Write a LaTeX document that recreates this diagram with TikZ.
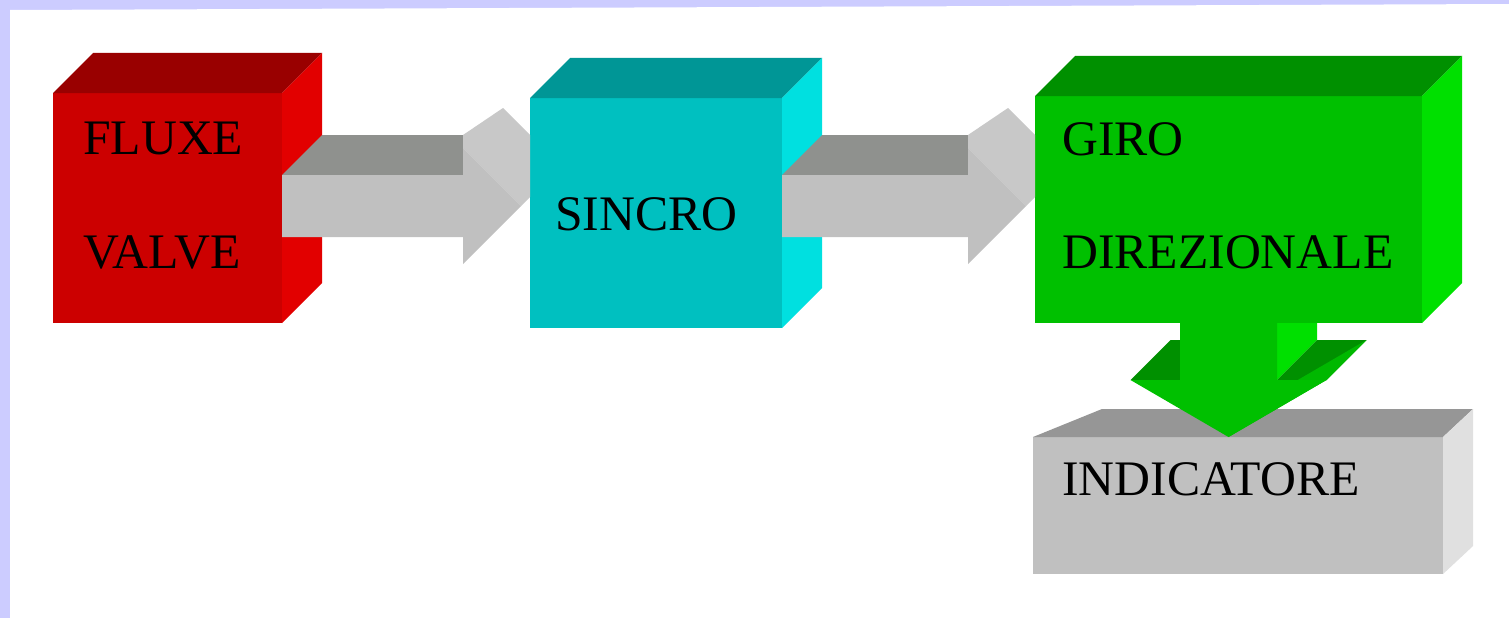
\documentclass[tikz,border=0pt]{standalone}
\usepackage{fontspec}
\setmainfont{Liberation Serif}
\usepackage{tikz}
\usetikzlibrary{calc}
\definecolor{frame}{HTML}{CCCCFF}
\definecolor{redf}{HTML}{CC0000}
\definecolor{redt}{HTML}{990000}
\definecolor{reds}{HTML}{E20000}
\definecolor{cyanf}{HTML}{00C0C0}
\definecolor{cyant}{HTML}{009696}
\definecolor{cyans}{HTML}{00E0E0}
\definecolor{greenf}{HTML}{00C000}
\definecolor{greent}{HTML}{009000}
\definecolor{greens}{HTML}{00E000}
\definecolor{greenh}{HTML}{00B800}
\definecolor{grayf}{HTML}{C0C0C0}
\definecolor{grayt}{HTML}{969696}
\definecolor{grays}{HTML}{E0E0E0}
\definecolor{arrt}{HTML}{8F918E}
\definecolor{arrh}{HTML}{C8C8C8}
\tikzset{
  face/.style={rectangle,inner sep=0pt,outer sep=0pt,anchor=north west},
  lbl/.style={font=\fontsize{49.7}{60}\selectfont,text=black,anchor=base west,inner sep=0pt},
}
% top and side of a box: node, left dx, right dx, depth, top colour, side colour
\newcommand{\cubefaces}[6]{%
  \fill[#5] (#1.north west) -- ++(#2,-#4) -- ($(#1.north east)+(#3,-#4)$) -- (#1.north east) -- cycle;
  \fill[#6] (#1.north east) -- ++(#3,-#4) -- ($(#1.south east)+(#3,-#4)$) -- (#1.south east) -- cycle;
}
% grey block arrow between two boxes
\newcommand{\flowarrow}[2]{%
  \coordinate (s) at (#1.east |- axis);
  \coordinate (h) at ($(#2.west |- axis)+(-67,0)$);
  \fill[arrt] ($(s)+(0,-31)$) -- ++(40,-40) -- ($(h)+(0,-71)$) -- ($(h)+(0,-31)$) -- cycle;
  \fill[arrh] ($(h)+(0,-71)$) -- ($(h)+(40,-98)$) -- ($(#2.west |- h)+(0,-71)$)
    -- ($(#2.west |- h)+(0,-9)$) -- ($(h)+(58,0)$) -- ($(h)+(0,-58)$) -- cycle;
  \fill[grayf] ($(s)+(0,-31)$) -- ($(h)+(0,-31)$) -- ($(h)+(0,-58)$) -- ($(h)+(58,0)$)
    -- ($(h)+(0,58)$) -- ($(h)+(0,31)$) -- ($(s)+(0,31)$) -- cycle;
}
% green block arrow pointing down
\newcommand{\droparrow}[2]{%
  \coordinate (t) at (#1.south |- #2.north);
  \coordinate (b) at ($(t)+(0,-57)$);
  \fill[greent] ($(b)+(-98,0)$) -- ++(40,-40) -- ($(b)+(-8.5,-40)$) -- ($(b)+(-48.5,0)$) -- cycle;
  \fill[greens] ($(#1.south)+(48.5,0)$) -- ($(#1.south)+(88.5,0)$) -- ($(b)+(88.5,-40)$) -- ($(b)+(48.5,0)$) -- cycle;
  \fill[greent] ($(b)+(48.5,0)$) -- ++(40,-40) -- ($(b)+(138,-40)$) -- ($(b)+(98,0)$) -- cycle;
  \fill[greenh] ($(b)+(98,0)$) -- ($(b)+(138,-40)$) -- ($(t)+(40,-40)$) -- (t) -- cycle;
  \fill[greenf] ($(#1.south)+(-48.5,0)$) -- ($(#1.south)+(48.5,0)$) -- ($(b)+(48.5,0)$) -- ($(b)+(98,0)$)
    -- (t) -- ($(b)+(-98,0)$) -- ($(b)+(-48.5,0)$) -- cycle;
}

\begin{document}
\begin{tikzpicture}[x=1pt,y=-1pt]
  \useasboundingbox (0,0) rectangle (1509,618);
  \fill[frame] (0,0) rectangle (1509,618);
  \fill[white] (10,10) -- (1509,4) -- (1509,618) -- (10,618) -- cycle;
  \coordinate (axis) at (0,206);

  \node[face,fill=redf,minimum width=229pt,minimum height=230pt] (fluxe) at (53,93) {};
  \cubefaces{fluxe}{40}{40}{40}{redt}{reds}
  \node[lbl] (fluxet) at ($(fluxe.north west)+(30,61)$) {FLUXE};
  \node[lbl] (valvet) at ($(fluxe.north west)+(30,175)$) {VALVE};

  \node[face,fill=cyanf,minimum width=252pt,minimum height=230pt] (sincro) at (530,98) {};
  \cubefaces{sincro}{40}{40}{40}{cyant}{cyans}
  \node[lbl] (sincrot) at ($(sincro.north west)+(25,132)$) {SINCRO};

  \node[face,fill=greenf,minimum width=387pt,minimum height=227pt] (giro) at (1035,96) {};
  \cubefaces{giro}{40}{40}{40}{greent}{greens}
  \node[lbl] (girot) at ($(giro.north west)+(27,59)$) {GIRO};
  \node[lbl] (direzt) at ($(giro.north west)+(27,172)$) {DIREZIONALE};

  \node[face,fill=grayf,minimum width=410pt,minimum height=137pt] (ind) at (1033,437) {};
  \cubefaces{ind}{69}{30}{28}{grayt}{grays}
  \node[lbl] (indt) at ($(ind.north west)+(29,58)$) {INDICATORE};

  \flowarrow{fluxe}{sincro}
  \flowarrow{sincro}{giro}
  \droparrow{giro}{ind}
\end{tikzpicture}
\end{document}
